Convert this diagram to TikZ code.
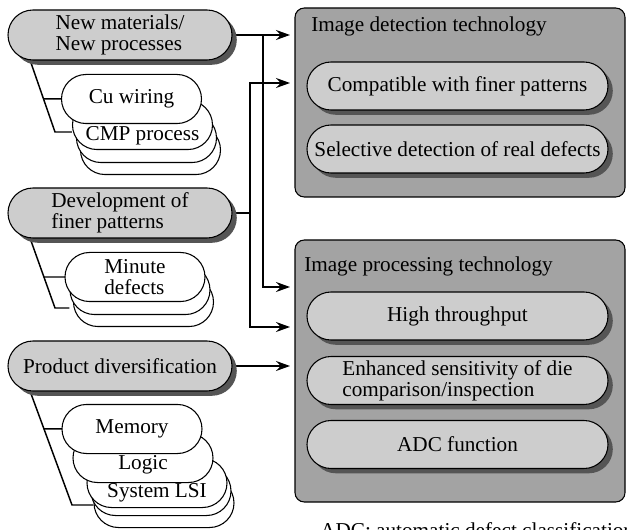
\documentclass[tikz,border=0pt]{standalone}
\usepackage{fontspec}
\setmainfont{Liberation Serif}
\usetikzlibrary{shapes.misc,shadows,arrows.meta,calc}

\definecolor{pillgray}{HTML}{CDCDCD}
\definecolor{boxgray}{HTML}{A3A3A3}
\definecolor{shadegray}{HTML}{555555}

\tikzset{
  pshadow/.style={drop shadow={shadow xshift=3.6pt, shadow yshift=-3.6pt, fill=shadegray, opacity=1}},
  gpill/.style={rectangle, draw, line width=0.8pt, fill=pillgray, rounded corners=18.75pt,
    minimum width=168pt, minimum height=37.5pt, inner sep=0pt, align=left, pshadow},
  tpill/.style={rectangle, draw, line width=0.8pt, fill=pillgray, rounded corners=18pt,
    minimum width=225.75pt, minimum height=36pt, inner sep=0pt, align=left, pshadow},
  wpill/.style={rectangle, draw, line width=0.8pt, fill=white, rounded corners=18.4pt,
    minimum width=105pt, minimum height=36.8pt, inner sep=0pt, align=left},
  techbox/.style={rectangle, draw, line width=0.8pt, fill=boxgray, rounded corners=7pt, inner sep=0pt},
  conn/.style={line width=1.1pt},
  arr/.style={conn, -{Stealth[length=10.5pt, width=7.5pt, inset=3.5pt]}},
  plain/.style={inner sep=0pt}
}

\begin{document}
\begin{tikzpicture}[x=0.75pt, y=-0.75pt, font=\fontsize{15.9}{15.6}\selectfont]
\useasboundingbox (0,0) rectangle (627,530);

% Technology boxes
\node[techbox, minimum width=247.5pt, minimum height=141.75pt] (det) at (460,102.5) {};
\node[techbox, minimum width=247.5pt, minimum height=196.5pt] (proc) at (460,371) {};
\node[plain, anchor=base west] (detT) at (311,32) {Image detection technology};
\node[plain, anchor=base west] (procT) at (304,272) {Image processing technology};

\node[tpill] (compat) at (457.5,86) {Compatible with finer patterns};
\node[tpill] (select) at (457.5,149) {Selective detection of real defects};
\node[tpill] (thru) at (457.5,316) {High throughput};
\node[tpill] (enh) at (457.5,380.5) {Enhanced sensitivity of die\\comparison/inspection};
\node[tpill] (adcf) at (457.5,444.5) {ADC function};

% Arrow ends
\coordinate (jA) at (263,35);
\coordinate (jB) at (250,213);
\coordinate (inDetA) at (290,35);
\coordinate (inDetB) at (290,83);
\coordinate (inProcA) at (290,287);
\coordinate (inProcB) at (290,327);
\coordinate (inProcC) at (290,366);

% Tree lines
\coordinate (nmA) at (30,60);
\coordinate (nmB) at (55,132);
\coordinate (dvA) at (30,238);
\coordinate (dvB) at (55,308);
\coordinate (pdA) at (30,391);
\coordinate (pdB) at (72,505);

% White stacks
\node[wpill] (nmS3) at (150.5,150) {};
\node[wpill] (nmS2) at (146.5,138) {};
\node[wpill] (cmp) at (142.5,125) {};
\node[plain] (cmpT) at (142.5,136) {CMP process};

\node[wpill] (dvS3) at (143.5,302) {};
\node[wpill] (dvS2) at (140,290) {};

\node[wpill] (pdS5) at (164,503) {};
\node[wpill] (pdS4) at (161,491) {};
\node[wpill] (lsi) at (157,483) {};
\node[plain] (lsiT) at (157,493) {System LSI};
\node[wpill] (logic) at (143,458) {};
\node[plain] (logicT) at (143,465) {Logic};

% Connectors
\draw[conn] (nmA) -- (nmB) -- (cmp.west |- nmB);
\draw[conn] ($(nmA)!0.54!(nmB)$) -- (131.5,99);
\draw[conn] (dvA) -- (dvB) -- (dvS2.west |- dvB);
\draw[conn] ($(dvA)!0.557!(dvB)$) -- (135,277);
\draw[conn] (pdA) -- (pdB) -- (pdS5.west |- pdB);
\draw[conn] ($(pdA)!0.333!(pdB)$) -- (132,429);

\draw[arr] (jA) |- (inProcA);
\draw[arr] (232,35) -- (inDetA);
\draw[conn] (232,213) -- (jB);
\draw[arr] (jB) |- (inDetB);
\draw[arr] (jB) |- (inProcB);
\draw[arr] (232,366) -- (inProcC);

\node[wpill] (cu) at (131.5,99) {Cu wiring};
\node[wpill] (minute) at (135,277) {Minute\\defects};
\node[wpill] (memory) at (132,429) {Memory};

% Trend pills
\node[gpill] (nm) at (120,35) {New materials/\\New processes};
\node[gpill] (dev) at (120,213) {Development of\\finer patterns};
\node[gpill] (prod) at (120,366) {Product diversification};

\node[plain, anchor=north west] (note) at (320,522) {ADC: automatic defect classification};
\end{tikzpicture}
\end{document}
